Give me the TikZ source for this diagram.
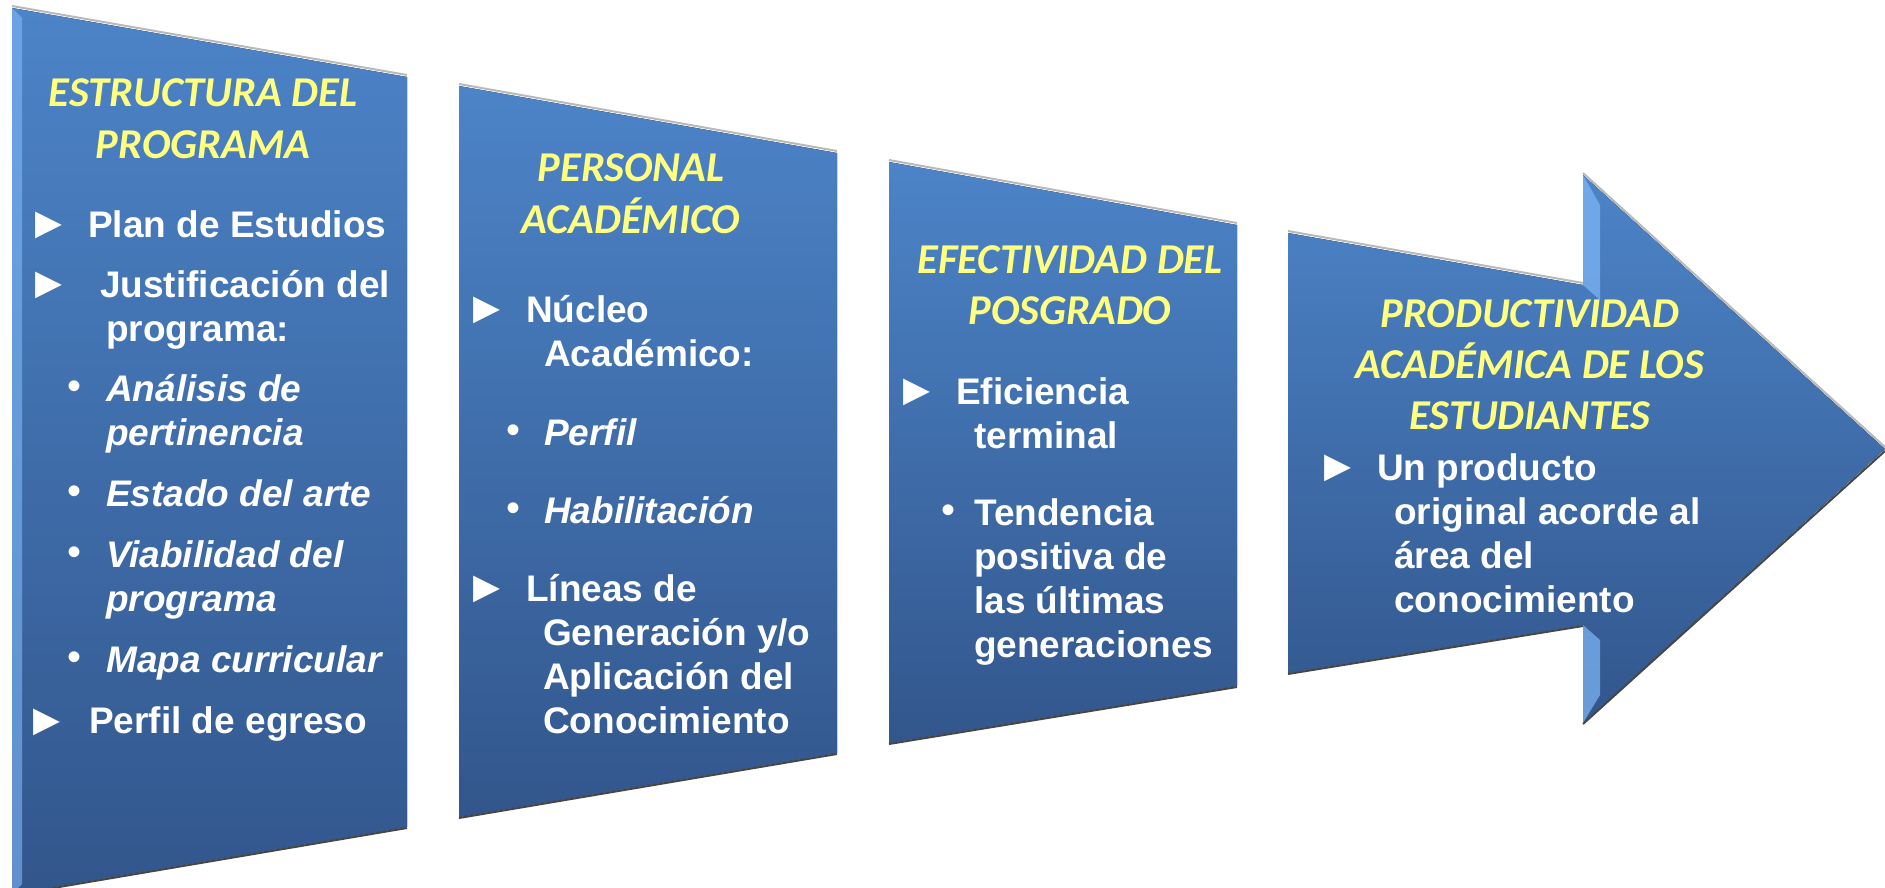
\documentclass[tikz,border=0pt]{standalone}
\usepackage{fontspec}
\setmainfont{Liberation Sans}
\newfontfamily\titlefont{Carlito}
\newfontfamily\symfont{DejaVu Sans}
\usetikzlibrary{positioning}

\definecolor{paneltop}{RGB}{76,132,200}
\definecolor{panelbot}{RGB}{50,86,140}
\definecolor{titleyellow}{RGB}{255,255,128}
\definecolor{hilite}{RGB}{128,184,248}
\definecolor{edgegray}{RGB}{185,185,185}
\definecolor{shadowgray}{RGB}{70,70,70}

\begin{document}
\begin{tikzpicture}[x=1pt,y=-1pt,
    panel/.style={top color=paneltop,bottom color=panelbot,draw=none},
    ttl/.style={font=\titlefont\bfseries\itshape\fontsize{42.5}{51}\selectfont,text=titleyellow,anchor=base,inner sep=0pt},
    itm/.style={font=\bfseries\fontsize{37}{44}\selectfont,text=white,anchor=base west,inner sep=0pt},
    sub/.style={itm,font=\bfseries\itshape\fontsize{37}{44}\selectfont},
    tri/.style={font=\symfont\fontsize{35}{35}\selectfont,text=white,inner sep=0pt},
    dot/.style={font=\fontsize{40}{40}\selectfont,text=white,inner sep=0pt}]

    \clip (0,0) rectangle (1885,888);

    % the four blocks
    \fill[panel] (12,8) -- (407,77) -- (407,827) -- (12,894) -- cycle;
    \fill[panel] (459,86) -- (837,153) -- (837,753) -- (459,817) -- cycle;
    \fill[panel] (889,162) -- (1237,225) -- (1237,686) -- (889,743) -- cycle;
    \fill[panel] (1288,233) -- (1583,285) -- (1583,175) -- (1885,449)
                 -- (1583,723) -- (1583,625) -- (1288,673) -- cycle;

    % edges and bevels
    \draw[edgegray,line width=2pt] (12,6) -- (407,75) (459,84) -- (837,151)
         (889,160) -- (1237,223) (1288,231) -- (1583,283) (1583,173) -- (1885,447);
    \draw[shadowgray,line width=2pt] (12,895) -- (407,828) (459,818) -- (837,754)
         (889,744) -- (1237,687) (1288,674) -- (1583,626) (1583,724) -- (1885,451);
    \fill[hilite,opacity=0.6] (12,8) -- (22,18) -- (22,884) -- (12,894) -- cycle;
    \fill[hilite,opacity=0.7] (1583,175) -- (1600,205) -- (1600,300) -- (1583,285) -- cycle;
    \fill[hilite,opacity=0.7] (1583,625) -- (1600,640) -- (1600,695) -- (1583,723) -- cycle;

    % titles
    \foreach \n/\x/\y/\t in {t1a/203/107/ESTRUCTURA DEL, t1b/203/158/PROGRAMA,
        t2a/631/182/PERSONAL, t2b/631/233/ACADÉMICO,
        t3a/1070/273/EFECTIVIDAD DEL, t3b/1070/324/POSGRADO,
        t4a/1530/327/PRODUCTIVIDAD, t4b/1530/378/ACADÉMICA DE LOS, t4c/1530/429/ESTUDIANTES}
        \node[ttl] (\n) at (\x,\y) {\t};

    % items
    \foreach \n/\x/\y/\t in {a1/88/237/Plan de Estudios, a2/100/297/Justificación del,
        a3/106/341/programa:, a4/89/733/Perfil de egreso,
        b1/526/322/Núcleo, b2/544/366/Académico:, b3/526/601/Líneas de,
        b4/543/645/{Generación y/o}, b5/543/689/Aplicación del, b6/543/733/Conocimiento,
        c1/956/404/Eficiencia, c2/974/448/terminal, c3/974/525/Tendencia,
        c4/974/569/positiva de, c5/974/613/las últimas, c6/974/657/generaciones,
        d1/1377/480/Un producto, d2/1394/524/original acorde al,
        d3/1394/568/área del, d4/1394/612/conocimiento}
        \node[itm] (\n) at (\x,\y) {\t};

    \foreach \n/\x/\y/\t in {s1/106/401/Análisis de, s2/106/445/pertinencia,
        s3/106/506/Estado del arte, s4/106/567/Viabilidad del, s5/106/611/programa,
        s6/106/672/Mapa curricular, s7/544/445/Perfil, s8/544/523/Habilitación}
        \node[sub] (\n) at (\x,\y) {\t};

    % bullets
    \foreach \n/\x/\y in {m1/49/225, m2/49/285, m3/47/722, m4/487/310,
        m5/487/589, m6/917/392, m7/1338/468}
        \node[tri] (\n) at (\x,\y) {▶};
    \foreach \n/\x/\y in {u1/75/390, u2/75/495, u3/75/556, u4/75/661,
        u5/513/434, u6/513/512, u7/948/514}
        \node[dot] (\n) at (\x,\y) {•};

\end{tikzpicture}
\end{document}
